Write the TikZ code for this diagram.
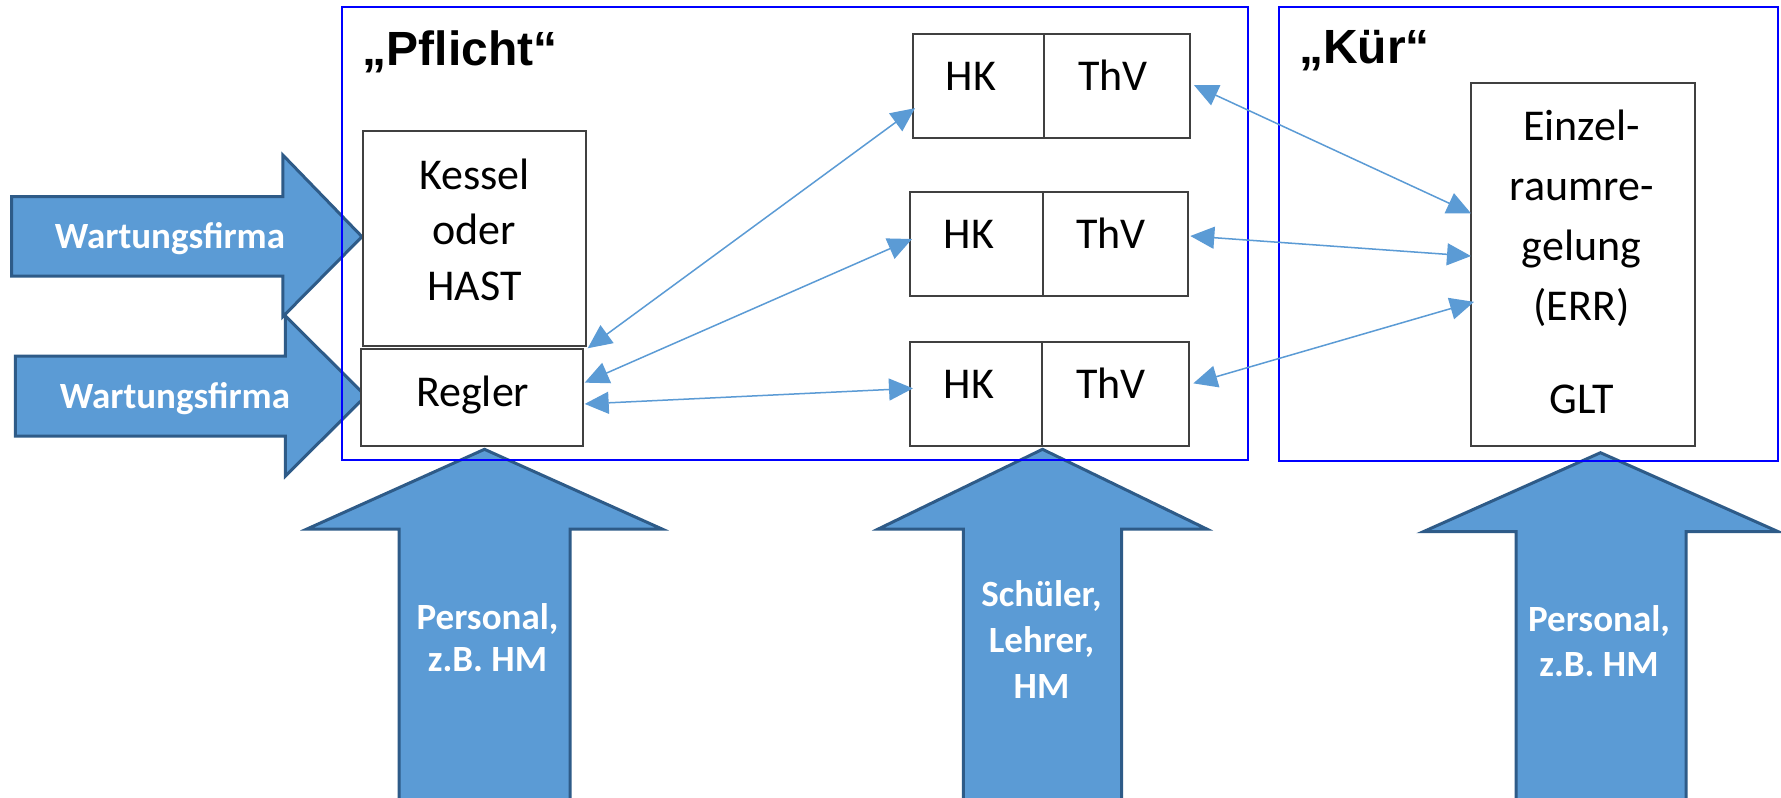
\documentclass[tikz,border=0pt]{standalone}
\usepackage{fontspec}
\setmainfont{Carlito}
\newfontfamily\titlefont{Liberation Sans}
\usetikzlibrary{arrows.meta,calc}
\definecolor{accent}{HTML}{5B9BD5}
\definecolor{accentdark}{HTML}{2E5B88}
\definecolor{boxline}{HTML}{404040}
\definecolor{framecol}{HTML}{0000FF}

\begin{document}
\begin{tikzpicture}[x=1pt,y=-1pt,
  frame/.style={draw=framecol,line width=2pt,inner sep=0pt,outer sep=0pt},
  cell/.style={draw=boxline,line width=2pt,fill=white,inner sep=0pt,outer sep=0pt},
  blockarrow/.style={fill=accent,draw=accentdark,line width=3pt,miter limit=20},
  badge/.style={text=white,font=\fontsize{37}{44}\selectfont\bfseries,align=center,inner sep=0pt,anchor=base},
  body/.style={font=\fontsize{44}{55.5}\selectfont,align=center,inner sep=0pt,anchor=base},
  link/.style={draw=accent,line width=1.5pt,{Triangle[length=24pt,width=22pt]}-{Triangle[length=24pt,width=22pt]}},
  heading/.style={font=\titlefont\bfseries\fontsize{48}{58}\selectfont,inner sep=0pt,anchor=base west}]

\clip (0,0) rectangle (1781,798);
\fill[white] (0,0) rectangle (1781,798);

% block arrows: service firm from the left
\draw[blockarrow] (11.5,196.7) -- (282.8,196.7) -- (282.8,155) -- (362,236.7)
  -- (282.8,316.7) -- (282.8,276) -- (11.5,276) -- cycle;
\draw[blockarrow] (15.3,356) -- (285.4,356) -- (285.4,316) -- (365.9,396)
  -- (285.4,476) -- (285.4,436) -- (15.3,436) -- cycle;

% block arrows: users from below
\draw[blockarrow] (399,830) -- (399,529) -- (307,529) -- (484.5,449.3)
  -- (662,529) -- (570,529) -- (570,830) -- cycle;
\draw[blockarrow] (963.3,830) -- (963.3,529) -- (878.3,529) -- (1042.5,449.3)
  -- (1206.7,529) -- (1121.7,529) -- (1121.7,830) -- cycle;
\draw[blockarrow] (1516,830) -- (1516,531.7) -- (1423.3,531.7) -- (1600.5,452.7)
  -- (1778.3,531.7) -- (1686,531.7) -- (1686,830) -- cycle;

% labels of the block arrows (base = baseline of the last line)
\node[badge] (wf1) at (170,248.3) {Wartungsfirma};
\node[badge] (wf2) at (175,408.3) {Wartungsfirma};
\node[badge,font=\fontsize{37}{41.5}\selectfont\bfseries] (pers1) at (487.5,671) {Personal,\\z.B. HM};
\node[badge,font=\fontsize{37}{46}\selectfont\bfseries] (users) at (1041.5,698) {Schüler,\\Lehrer,\\HM};
\node[badge,font=\fontsize{37}{45}\selectfont\bfseries] (pers2) at (1599,676.7) {Personal,\\z.B. HM};

% the two areas
\node[frame,minimum width=906.6,minimum height=452.7] (pflicht) at (795,233.65) {};
\node[frame,minimum width=498.5,minimum height=453.2] (kuer) at (1528.25,233.9) {};
\node[heading] (pflichtTitle) at (362.7,65) {„Pflicht“};
\node[heading] (kuerTitle) at (1299,63.3) {„Kür“};

% components
\node[cell,minimum width=223.5,minimum height=214.5] (kessel) at (474.25,238.25) {};
\node[cell,minimum width=221.7,minimum height=96.7] (regler) at (471.85,397.65) {};
\node[cell,minimum width=131,minimum height=104.3] (hk1) at (978.5,86.15) {};
\node[cell,minimum width=146,minimum height=104.3] (thv1) at (1117,86.15) {};
\node[cell,minimum width=132.5,minimum height=104] (hk2) at (976.25,244) {};
\node[cell,minimum width=145.8,minimum height=104] (thv2) at (1115.4,244) {};
\node[cell,minimum width=132.3,minimum height=104.3] (hk3) at (976.15,393.85) {};
\node[cell,minimum width=147,minimum height=104.3] (thv3) at (1115.8,393.85) {};
\node[cell,minimum width=223.5,minimum height=363.3] (err) at (1582.75,264.35) {};

\node[body] (kesselText) at (474.3,300) {Kessel\\oder\\HAST};
\node[body] (reglerText) at (472.7,406.7) {Regler};
\node[body] (hk1Text) at (971,90.7) {HK};
\node[body] (thv1Text) at (1113,90.7) {ThV};
\node[body] (hk2Text) at (969,248.3) {HK};
\node[body] (thv2Text) at (1111,248.3) {ThV};
\node[body] (hk3Text) at (969,398.3) {HK};
\node[body] (thv3Text) at (1111,398.3) {ThV};
\node[body,font=\fontsize{44}{60}\selectfont] (errText) at (1581.5,320) {Einzel-\\raumre-\\gelung\\(ERR)};
\node[body] (gltText) at (1581.5,413) {GLT};

% signal links
\draw[link] ($(kessel.south east)+(1.7,2.8)$) -- ($(hk1.west)+(2,22)$);
\draw[link] ($(regler.east)+(2,-15)$) -- ($(hk2.west)+(2,-5)$);
\draw[link] ($(regler.east)+(2,6.3)$) -- ($(hk3.west)+(3,-5.5)$);
\draw[link] ($(thv1.east)+(4,-1)$) -- ($(err.west)+(0,-51)$);
\draw[link] ($(thv2.east)+(2,-8)$) -- ($(err.west)+(0,-8.3)$);
\draw[link] ($(thv3.east)+(4,-10.5)$) -- ($(err.west)+(3,37.5)$);
\end{tikzpicture}
\end{document}
